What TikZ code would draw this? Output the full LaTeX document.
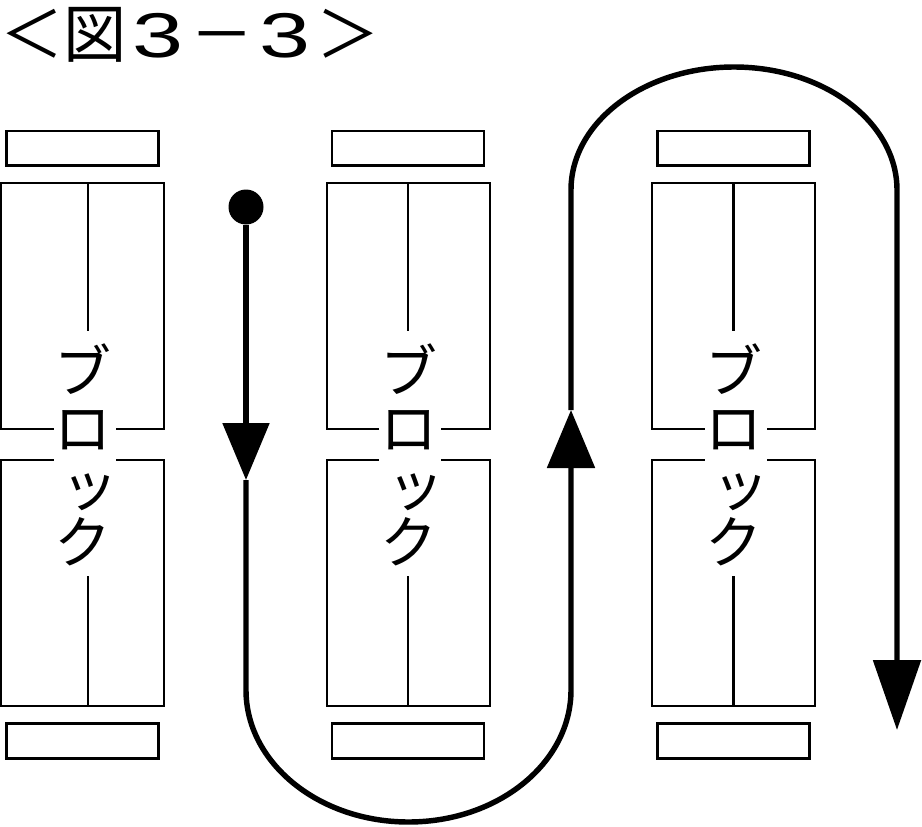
\documentclass[tikz,border=0pt]{standalone}
\usepackage{fontspec}
\setmainfont{Noto Sans CJK JP}
\newfontfamily\digitfont{Liberation Sans}
\usetikzlibrary{arrows.meta}

\tikzset{
    frame/.style   = {line width=1.14pt},
    divider/.style = {line width=1.70pt},
    plate/.style   = {line width=1.70pt},
    route/.style   = {line width=3.10pt},
    kana/.style    = {inner sep=0pt, align=center, font=\fontsize{32.4}{32.4}\selectfont},
}
\newcommand{\widedigit}{\makebox[1em]{\digitfont\scalebox{1.45}[1]{3}}}

\begin{document}
\begin{tikzpicture}
            % Frame to fix the page size:
            \useasboundingbox                                           ( 0.00,  0.00) rectangle (18.44,-16.54);
            % Title
            \node[inner sep=0pt, anchor=base west, font=\fontsize{36}{40}\selectfont] (title) at ( 0.00, -1.15)
                 {＜図\widedigit －\widedigit ＞};
            % Blocks
            \foreach \off/\mid [count=\i] in {0.00/1.76, 6.51/1.65, 13.02/1.65} {
                \begin{scope}[xshift=\off cm]
                    \draw[plate]                                        ( 0.13, -2.62) rectangle ( 3.17, -3.31);
                    \draw[plate]                                        ( 0.13,-14.47) rectangle ( 3.17,-15.16);
                    \draw[frame] ( 1.07, -8.58) -- ( 0.02, -8.58) -- ( 0.02, -3.66) -- ( 3.28, -3.66) -- ( 3.28, -8.58) -- ( 2.31, -8.58);
                    \draw[frame] ( 1.07, -9.20) -- ( 0.02, -9.20) -- ( 0.02,-14.12) -- ( 3.28,-14.12) -- ( 3.28, -9.20) -- ( 2.31, -9.20);
                    \draw[divider]                                      (\mid, -3.66) -- (\mid, -6.62);
                    \draw[divider]                                      (\mid,-11.52) -- (\mid,-14.12);
                    \node[kana] (block\i) at ( 1.66, -9.10)
                         {ブ\\ロ\\\makebox[0pt]{\hspace{0.28cm}ッ}\\ク};
                \end{scope}
            }
            % Route
            \node[circle, fill, inner sep=0pt, minimum size=0.70cm] (start) at ( 4.92, -4.14) {};
            \coordinate (downtip) at ( 4.92, -9.60);
            \coordinate (uptip)   at (11.42, -8.20);
            \coordinate (endtip)  at (17.94,-14.60);
            \draw[route, -{Triangle[length=1.14cm, width=0.92cm]}] (start) -- (downtip);
            \draw[route, -{Triangle[length=1.16cm, width=0.94cm]}] (downtip) -- ( 4.92,-13.80)
                 arc[start angle=180, end angle=360, x radius=3.25, y radius=2.64] -- (uptip);
            \draw[route, -{Triangle[length=1.40cm, width=0.94cm]}] (uptip) -- (11.42, -3.80)
                 arc[start angle=180, end angle=0, x radius=3.26, y radius=2.46] -- (endtip);
\end{tikzpicture}
\end{document}
